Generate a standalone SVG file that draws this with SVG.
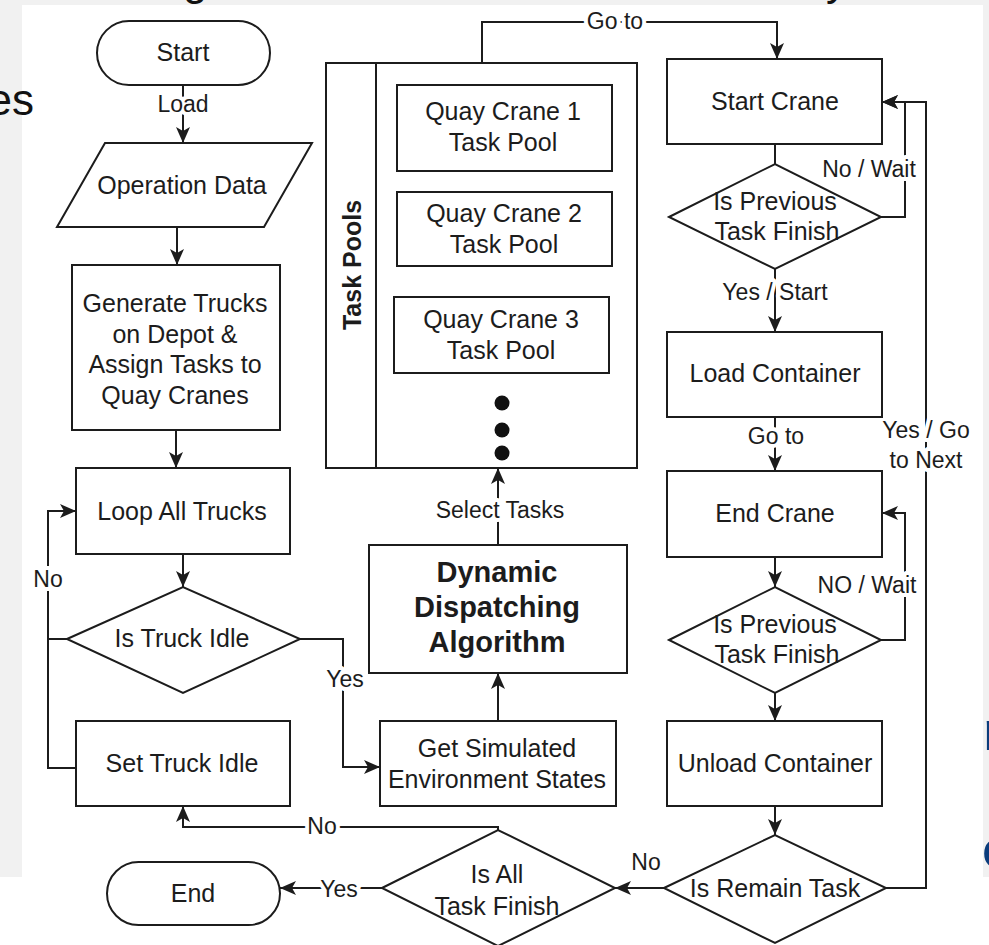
<svg xmlns="http://www.w3.org/2000/svg" width="989" height="945" viewBox="0 0 989 945">
  <style>
    text { font-family: "Liberation Sans", Arial, sans-serif; fill: #1c1c1c; }
    .n { font-size: 25px; text-anchor: middle; }
    .b { font-size: 29px; font-weight: bold; text-anchor: middle; }
    .lbl { font-size: 23px; text-anchor: middle; stroke: #ffffff; stroke-width: 8px; paint-order: stroke; stroke-linejoin: round; }
    .shape { fill: #ffffff; stroke: #1c1c1c; stroke-width: 2; }
    .edge { fill: none; stroke: #1c1c1c; stroke-width: 2; }
    .arr { marker-end: url(#arrow); }
    .bg-text { font-size: 44px; fill: #111111; }
    .blue { font-size: 56px; font-weight: 900; fill: #0b3d7c; }
  </style>
  <defs>
    <marker id="arrow" viewBox="0 0 16 14" refX="16" refY="7" markerWidth="16" markerHeight="14" markerUnits="userSpaceOnUse" orient="auto">
      <path d="M0,0 L16,7 L0,14 L4,7 z" fill="#1c1c1c"/>
    </marker>
  </defs>

  <!-- page backdrop -->
  <rect x="0" y="0" width="989" height="945" fill="#ffffff"/>
  <rect x="0" y="0" width="989" height="877" fill="#f1f1f1"/>
  <text class="bg-text" x="183" y="-5">g</text>
  <text class="bg-text" x="826" y="-5">y</text>
  <text class="blue" x="983" y="750">n</text>
  <text class="blue" x="982" y="868">o</text>
  <rect x="22" y="5" width="961" height="940" fill="#ffffff"/>
  <text class="bg-text" x="34" y="115" text-anchor="end">es</text>

  <!-- connectors -->
  <g id="connectors">
    <path class="edge arr" d="M183,85 V143"/>
    <text class="lbl" x="183" y="112">Load</text>
    <path class="edge arr" d="M177,227 V265"/>
    <path class="edge arr" d="M176,430 V468"/>
    <path class="edge arr" d="M183,554 V587"/>
    <path class="edge" d="M76,768 H48 V639"/>
    <path class="edge arr" d="M67,639 H48 V511 H76"/>
    <text class="lbl" x="48" y="587">No</text>
    <path class="edge arr" d="M300,639 H343 V767 H380"/>
    <text class="lbl" x="345" y="687">Yes</text>
    <path class="edge arr" d="M498,721 V673"/>
    <path class="edge arr" d="M498,545 V468"/>
    <text class="lbl" x="500" y="518">Select Tasks</text>
    <path class="edge arr" d="M482,63 V22 H777 V59"/>
    <text class="lbl" x="615" y="29">Go to</text>
    <path class="edge" d="M775,144 V164"/>
    <path class="edge arr" d="M881,217 H905 V102 H882"/>
    <text class="lbl" x="869" y="177">No / Wait</text>
    <path class="edge arr" d="M775,269 V332"/>
    <text class="lbl" x="775" y="300">Yes / Start</text>
    <path class="edge arr" d="M775,417 V471"/>
    <text class="lbl" x="776" y="444">Go to</text>
    <path class="edge arr" d="M775,557 V587"/>
    <path class="edge arr" d="M881,640 H905 V513 H882"/>
    <text class="lbl" x="867" y="593">NO / Wait</text>
    <path class="edge arr" d="M775,693 V721"/>
    <path class="edge arr" d="M775,806 V835"/>
    <path class="edge arr" d="M886,888 H926 V102 H882"/>
    <text class="lbl" x="926" y="438">Yes / Go</text>
    <text class="lbl" x="926" y="468">to Next</text>
    <path class="edge arr" d="M664,888 H615"/>
    <text class="lbl" x="646" y="870">No</text>
    <path class="edge arr" d="M382,888 H280"/>
    <text class="lbl" x="339" y="897">Yes</text>
    <path class="edge arr" d="M498,830 V827 H183 V806"/>
    <text class="lbl" x="322" y="834">No</text>
  </g>

  <!-- left column -->
  <g id="start">
    <rect class="shape" x="97" y="21" width="173" height="64" rx="32"/>
    <text class="n" x="183" y="61">Start</text>
  </g>
  <g id="operation-data">
    <polygon class="shape" points="105,143 312,143 264,227 57,227"/>
    <text class="n" x="182" y="194">Operation Data</text>
  </g>
  <g id="generate-trucks">
    <rect class="shape" x="72" y="265" width="208" height="165"/>
    <text class="n" x="175" y="312">Generate Trucks</text>
    <text class="n" x="175" y="342.5">on Depot &amp;</text>
    <text class="n" x="175" y="373">Assign Tasks to</text>
    <text class="n" x="175" y="403.5">Quay Cranes</text>
  </g>
  <g id="loop-all-trucks">
    <rect class="shape" x="76" y="468" width="214" height="86"/>
    <text class="n" x="182" y="520">Loop All Trucks</text>
  </g>
  <g id="is-truck-idle">
    <polygon class="shape" points="67,639 183,587 300,639 183,693"/>
    <text class="n" x="182" y="647">Is Truck Idle</text>
  </g>
  <g id="set-truck-idle">
    <rect class="shape" x="76" y="721" width="214" height="85"/>
    <text class="n" x="182" y="772">Set Truck Idle</text>
  </g>
  <g id="end">
    <rect class="shape" x="107" y="862" width="173" height="63" rx="31.5"/>
    <text class="n" x="193" y="902">End</text>
  </g>

  <!-- middle column -->
  <g id="task-pools">
    <rect class="shape" x="326" y="63" width="311" height="405"/>
    <line class="edge" x1="376" y1="63" x2="376" y2="468"/>
    <text class="b" x="0" y="0" transform="translate(361,265) rotate(-90)" style="font-size:25px">Task Pools</text>
    <g id="qc1-pool">
      <rect class="shape" x="397" y="85" width="215" height="86"/>
      <text class="n" x="503" y="120">Quay Crane 1</text>
      <text class="n" x="503" y="151">Task Pool</text>
    </g>
    <g id="qc2-pool">
      <rect class="shape" x="397" y="192" width="215" height="74"/>
      <text class="n" x="504" y="222">Quay Crane 2</text>
      <text class="n" x="504" y="253">Task Pool</text>
    </g>
    <g id="qc3-pool">
      <rect class="shape" x="394" y="297" width="215" height="76"/>
      <text class="n" x="501" y="328">Quay Crane 3</text>
      <text class="n" x="501" y="359">Task Pool</text>
    </g>
    <circle cx="502" cy="403" r="7.5" fill="#111111"/>
    <circle cx="502" cy="430" r="7.5" fill="#111111"/>
    <circle cx="502" cy="453" r="7.5" fill="#111111"/>
  </g>
  <g id="dynamic-dispatching">
    <rect class="shape" x="369" y="545" width="258" height="128"/>
    <text class="b" x="497" y="582">Dynamic</text>
    <text class="b" x="497" y="617">Dispatching</text>
    <text class="b" x="497" y="652">Algorithm</text>
  </g>
  <g id="get-states">
    <rect class="shape" x="380" y="721" width="236" height="85"/>
    <text class="n" x="497" y="757">Get Simulated</text>
    <text class="n" x="497" y="788">Environment States</text>
  </g>
  <g id="is-all-task-finish">
    <polygon class="shape" points="382,888 498,830 615,888 498,946"/>
    <text class="n" x="497" y="883">Is All</text>
    <text class="n" x="497" y="915">Task Finish</text>
  </g>

  <!-- right column -->
  <g id="start-crane">
    <rect class="shape" x="667" y="59" width="215" height="85"/>
    <text class="n" x="775" y="110">Start Crane</text>
  </g>
  <g id="is-previous-finish-1">
    <polygon class="shape" points="669,217 775,164 881,217 775,269"/>
    <text class="n" x="775" y="210">Is Previous</text>
    <text class="n" x="777" y="240">Task Finish</text>
  </g>
  <g id="load-container">
    <rect class="shape" x="667" y="332" width="215" height="85"/>
    <text class="n" x="775" y="382">Load Container</text>
  </g>
  <g id="end-crane">
    <rect class="shape" x="667" y="471" width="215" height="86"/>
    <text class="n" x="775" y="522">End Crane</text>
  </g>
  <g id="is-previous-finish-2">
    <polygon class="shape" points="669,640 775,587 881,640 775,693"/>
    <text class="n" x="775" y="633">Is Previous</text>
    <text class="n" x="777" y="663">Task Finish</text>
  </g>
  <g id="unload-container">
    <rect class="shape" x="667" y="721" width="215" height="85"/>
    <text class="n" x="775" y="772">Unload Container</text>
  </g>
  <g id="is-remain-task">
    <polygon class="shape" points="664,888 775,835 886,888 775,943"/>
    <text class="n" x="775" y="897">Is Remain Task</text>
  </g>
</svg>
